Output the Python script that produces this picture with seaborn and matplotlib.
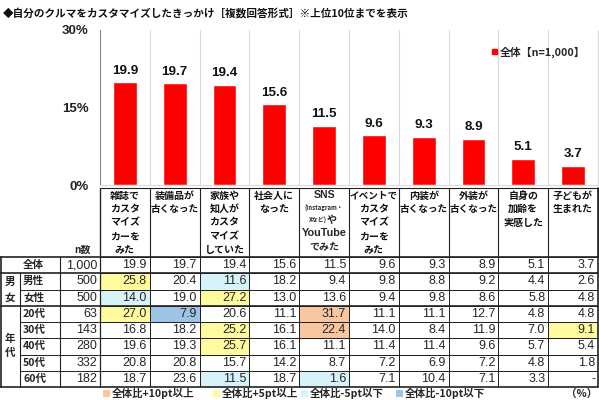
import numpy as np
import pandas as pd
import matplotlib
matplotlib.use("Agg")
import matplotlib.pyplot as plt
import seaborn as sns
from matplotlib.colors import ListedColormap
from matplotlib.patches import Patch, Rectangle

# ---------------- data ----------------
title = "◆自分のクルマをカスタマイズしたきっかけ［複数回答形式］※上位10位までを表示"
categories = ["雑誌でカスタマイズカーをみた", "装備品が古くなった", "家族や知人がカスタマイズしていた",
              "社会人になった", "SNS(Instagram・Xなど)やYouTubeでみた", "イベントでカスタマイズカーをみた",
              "内装が古くなった", "外装が古くなった", "自身の加齢を実感した", "子どもが生まれた"]
header_lines = [["雑誌で", "カスタ", "マイズ", "カーを", "みた"],
                ["装備品が", "古くなった"],
                ["家族や", "知人が", "カスタ", "マイズ", "していた"],
                ["社会人に", "なった"],
                None,  # SNS column drawn specially
                ["イベントで", "カスタ", "マイズ", "カーを", "みた"],
                ["内装が", "古くなった"],
                ["外装が", "古くなった"],
                ["自身の", "加齢を", "実感した"],
                ["子どもが", "生まれた"]]
overall = [19.9, 19.7, 19.4, 15.6, 11.5, 9.6, 9.3, 8.9, 5.1, 3.7]
legend_label = "全体【n=1,000】"
ytick_values = [0, 15, 30]
ytick_labels = ["0%", "15%", "30%"]

row_labels = ["全体", "男性", "女性", "20代", "30代", "40代", "50代", "60代"]
n_values = [1000, 500, 500, 63, 143, 280, 332, 182]
male = [25.8, 20.4, 11.6, 18.2, 9.4, 9.8, 8.8, 9.2, 4.4, 2.6]
female = [14.0, 19.0, 27.2, 13.0, 13.6, 9.4, 9.8, 8.6, 5.8, 4.8]
age20 = [27.0, 7.9, 20.6, 11.1, 31.7, 11.1, 11.1, 12.7, 4.8, 4.8]
age30 = [16.8, 18.2, 25.2, 16.1, 22.4, 14.0, 8.4, 11.9, 7.0, 9.1]
age40 = [19.6, 19.3, 25.7, 16.1, 11.1, 11.4, 11.4, 9.6, 5.7, 5.4]
age50 = [20.8, 20.8, 15.7, 14.2, 8.7, 7.2, 6.9, 7.2, 4.8, 1.8]
age60 = [18.7, 23.6, 11.5, 18.7, 1.6, 7.1, 10.4, 7.1, 3.3, None]
table_rows = [overall, male, female, age20, age30, age40, age50, age60]
hl_labels = ["全体比+10pt以上", "全体比+5pt以上", "全体比-5pt以下", "全体比-10pt以下"]

# ---------------- style ----------------
sns.set_style("white")
CJK = ["Noto Sans CJK JP", "DejaVu Sans"]
NUM = ["Liberation Sans Narrow", "Liberation Sans", "DejaVu Sans"]
plt.rcParams["font.family"] = CJK
RED = "#FF0000"
HL_COLORS = ["#FFFFFF", "#F8C6A0", "#FFFA9E", "#D8F2FA", "#9DC3E6"]

W, H = 599, 400
fig = plt.figure(figsize=(W / 100, H / 100), dpi=100)
fig.patch.set_facecolor("white")

def fx(px):
    return px / W

def fy(py):
    return 1 - py / H

# ---------------- bar chart ----------------
ax = fig.add_axes([fx(100), fy(185), fx(598) - fx(100), fy(30) - fy(185)])
df = pd.DataFrame({"cat": categories, "val": overall})
sns.barplot(data=df, x="cat", y="val", color=RED, saturation=1, width=0.48, ax=ax)
ax.set_xlim(-0.5, 9.5)
ax.set_ylim(0, 30)
ax.set_yticks(ytick_values)
ax.set_yticklabels(ytick_labels, fontfamily=NUM, fontweight="bold", fontsize=9.5, color="#222222")
ax.set_xticks([])
ax.set_xticks(np.arange(0.5, 10, 1), minor=True)
ax.tick_params(axis="x", which="minor", length=0)
ax.tick_params(axis="y", length=3, pad=5, color="#888888")
ax.grid(which="minor", axis="x", color="#d9d9d9", lw=0.8)
ax.set_xlabel("")
ax.set_ylabel("")
ax.spines["top"].set_visible(False)
ax.spines["left"].set_color("#888888")
ax.spines["bottom"].set_color("#d9d9d9")
ax.spines["right"].set_color("#d9d9d9")
ax.bar_label(ax.containers[0], labels=[f"{v:.1f}" for v in overall], padding=4,
             fontsize=9.6, fontfamily=NUM, fontweight="bold", color="#111111")
ax.legend(handles=[Patch(color=RED, label=legend_label)], loc="center right",
          bbox_to_anchor=(0.995, 0.858), frameon=False, handlelength=0.45, handleheight=0.45,
          handletextpad=0.3, prop=dict(family=CJK, weight="bold", size=7.8))

# ---------------- heatmap (table cells) ----------------
row_top, row_h = 257.0, 16.25
tbl_bottom = row_top + row_h * len(row_labels)
codes = []
for r, vals in enumerate(table_rows):
    rc = []
    for j, v in enumerate(vals):
        c = 0
        if r > 0 and v is not None:
            d = v - overall[j]
            if d >= 10:
                c = 1
            elif d >= 5:
                c = 2
            elif d <= -10:
                c = 4
            elif d <= -5:
                c = 3
        rc.append(c)
    codes.append(rc)
hax = fig.add_axes([fx(100), fy(tbl_bottom), fx(598) - fx(100), fy(row_top) - fy(tbl_bottom)])
sns.heatmap(np.array(codes), cmap=ListedColormap(HL_COLORS), vmin=-0.5, vmax=4.5, cbar=False,
            linewidths=0.7, linecolor="#222222", xticklabels=False, yticklabels=False, ax=hax)

# ---------------- pixel overlay for texts / lines ----------------
pax = fig.add_axes([0, 0, 1, 1], zorder=5)
pax.set_xlim(0, W)
pax.set_ylim(H, 0)
pax.axis("off")
pax.patch.set_alpha(0)

pax.text(3, 13, title, fontsize=7.65, fontweight="bold", va="center", ha="left", color="#111111")

col_w = 49.8
def col_x(j):
    return 100 + col_w * j

# header
LC = "#222222"
pax.plot([100, 598], [188, 188], color=LC, lw=0.8)
for j in range(11):
    pax.plot([col_x(j), col_x(j)], [188, row_top], color=LC, lw=0.8)
line_step = 13.6
HF = 7.2
for j, lines in enumerate(header_lines):
    cx = col_x(j) + col_w / 2
    if lines is None:
        ys = [195, 208, 220, 233, 247]
        pax.text(cx, ys[0], "SNS", fontsize=7.6, fontweight="bold", ha="center", va="center", fontfamily=NUM)
        pax.text(cx, ys[1], "(Instagram・", fontsize=4.3, fontweight="bold", ha="center", va="center")
        pax.text(cx + 3, ys[2], "Xなど)", fontsize=4.3, fontweight="bold", ha="right", va="center")
        pax.text(cx + 3, ys[2], "や", fontsize=HF, fontweight="bold", ha="left", va="center")
        pax.text(cx, ys[3], "YouTube", fontsize=7.8, fontweight="bold", ha="center", va="center", fontfamily=NUM)
        pax.text(cx, ys[4], "でみた", fontsize=HF, fontweight="bold", ha="center", va="center")
        continue
    for i, ln in enumerate(lines):
        fs = HF if len(ln) < 5 else 6.9
        pax.text(cx, 195.5 + line_step * i, ln, fontsize=fs, fontweight="bold",
                 ha="center", va="center", color="#111111")
pax.text(82, 250, "n数", fontsize=7.2, fontweight="bold", ha="center", va="center")

# left part lines
pax.plot([0, 598], [row_top, row_top], color=LC, lw=1.2)
pax.plot([0, 598], [row_top + row_h, row_top + row_h], color=LC, lw=1.2)
pax.plot([0, 598], [row_top + 3 * row_h, row_top + 3 * row_h], color=LC, lw=1.2)
pax.plot([0, 598], [tbl_bottom, tbl_bottom], color=LC, lw=1.2)
for r in [2, 4, 5, 6, 7]:
    yy = row_top + r * row_h
    pax.plot([20, 100], [yy, yy], color=LC, lw=0.7)
pax.plot([0.6, 0.6], [row_top, tbl_bottom], color=LC, lw=1.2)
pax.plot([598, 598], [188, tbl_bottom], color=LC, lw=1.2)
pax.plot([20, 20], [row_top + row_h, tbl_bottom], color=LC, lw=0.8)
pax.plot([60, 60], [row_top, tbl_bottom], color=LC, lw=0.8)
pax.plot([100, 100], [188, tbl_bottom], color=LC, lw=0.9)

# row labels & values
for r, lab in enumerate(row_labels):
    cy = row_top + row_h * (r + 0.5)
    if r == 0:
        pax.text(33, cy, lab, fontsize=7.6, fontweight="bold", ha="center", va="center")
    else:
        pax.text(23, cy, lab, fontsize=7.6, fontweight="bold", ha="left", va="center")
    pax.text(97, cy, f"{n_values[r]:,}", fontsize=9, fontfamily=NUM, ha="right", va="center")
    for j, v in enumerate(table_rows[r]):
        s = "-" if v is None else f"{v:.1f}"
        pax.text(col_x(j + 1) - 3, cy, s, fontsize=9, fontfamily=NUM, ha="right", va="center")

# group labels
for ch, yy in zip("男女", [282, 298]):
    pax.text(10, yy, ch, fontsize=7.6, fontweight="bold", ha="center", va="center")
for ch, yy in zip("年代", [339, 353]):
    pax.text(10, yy, ch, fontsize=7.6, fontweight="bold", ha="center", va="center")

# bottom legend
leg_y = 393.5
for (x0, lab), col in zip([(103, hl_labels[0]), (213, hl_labels[1]), (301, hl_labels[2]), (396, hl_labels[3])],
                          HL_COLORS[1:]):
    pax.add_patch(Rectangle((x0, leg_y - 3.5), 7, 7, facecolor=col, edgecolor="none"))
    pax.text(x0 + 9, leg_y, lab, fontsize=7.6, fontweight="bold", ha="left", va="center")
pax.text(597, leg_y, "（%）", fontsize=7.6, fontweight="bold", ha="right", va="center")

fig.savefig("out.png", dpi=100)
